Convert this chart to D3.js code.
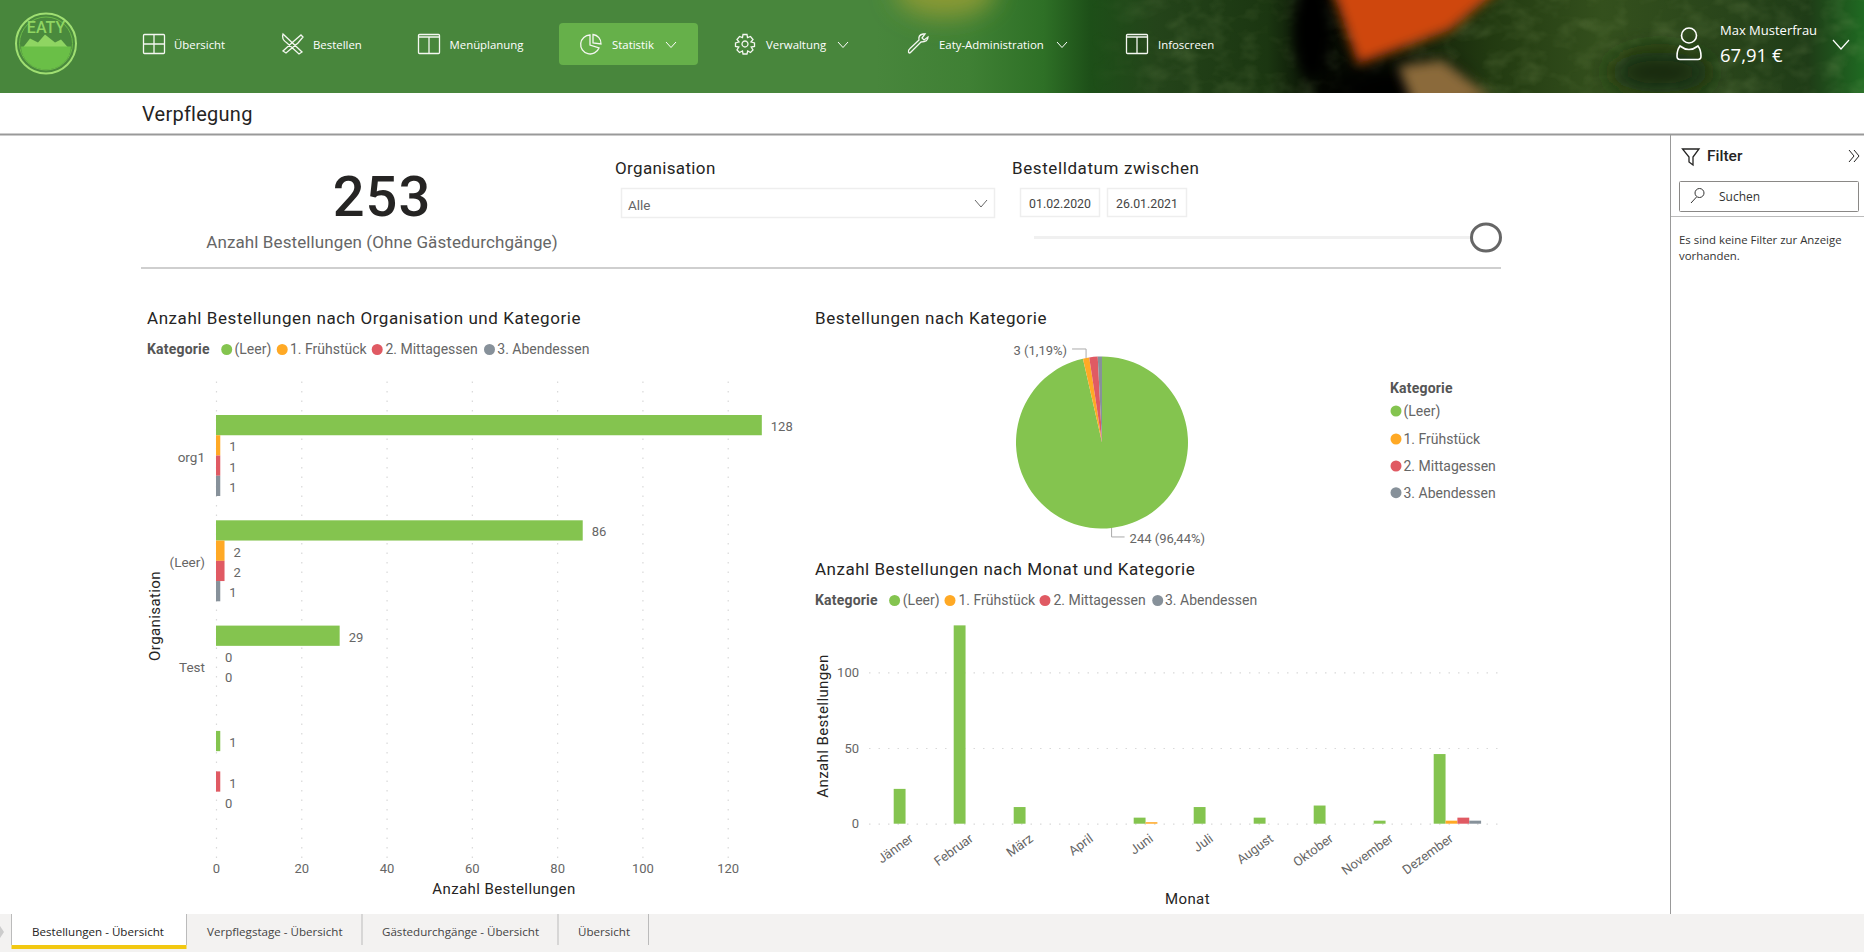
<!DOCTYPE html>
<html lang="de">
<head>
<meta charset="utf-8">
<title>Verpflegung</title>
<script src="https://cdn.jsdelivr.net/npm/d3@7"></script>
<style>
    html, body { margin: 0; padding: 0; background: #fff; overflow: hidden; }
    svg { display: block; }
    text { font-family: Roboto, sans-serif; }
    .ui { font-family: "Open Sans", sans-serif; }
    .grid line { stroke: #d9d9d9; stroke-dasharray: 1.5 8; stroke-width: 1.2; }
    .tick text { font-family: Roboto, sans-serif; font-size: 13px; fill: #666; }
</style>
</head>
<body>
<div id="page"></div>
<script>
// categories shared by all three charts
const categories = ["(Leer)", "1. Frühstück", "2. Mittagessen", "3. Abendessen"];
const catColors = ["#84c44f", "#ffa925", "#e05a63", "#87919a"];

// bar chart: orders per organisation, one list per category (null = no bar, no label)
const orgs = ["org1", "(Leer)", "Test", ""];
const orgLeer = [128, 86, 29, 1];
const orgFruehstueck = [1, 2, 0, null];
const orgMittag = [1, 2, 0, 1];
const orgAbend = [1, 1, null, 0];
const orgTicks = [0, 20, 40, 60, 80, 100, 120];

// pie chart
const pieValues = [244, 3, 4, 2];

// column chart: orders per month
const months = ["Jänner", "Februar", "März", "April", "Juni", "Juli", "August", "Oktober", "November", "Dezember"];
const monthLeer = [23, 131, 11, 0, 4, 11, 4, 12, 2, 46];
const monthFruehstueck = [0, 0, 0, 0, 1, 0, 0, 0, 0, 2];
const monthMittag = [0, 0, 0, 0, 0, 0, 0, 0, 0, 4];
const monthAbend = [0, 0, 0, 0, 0, 0, 0, 0, 0, 2];
const monthTicks = [0, 50, 100];

// navigation
const navItems = [
    {label: "Übersicht", x: 174, icon: "grid", ix: 143},
    {label: "Bestellen", x: 313, icon: "cutlery", ix: 281},
    {label: "Menüplanung", x: 449.5, icon: "split", ix: 418},
    {label: "Statistik", x: 612, icon: "pie", ix: 580, arrow: 671},
    {label: "Verwaltung", x: 766, icon: "gear", ix: 735, arrow: 843},
    {label: "Eaty-Administration", x: 939, icon: "wrench", ix: 908, arrow: 1062},
    {label: "Infoscreen", x: 1158, icon: "split", ix: 1126}
];

const tabs = [
    {label: "Bestellungen - Übersicht", x: 32},
    {label: "Verpflegstage - Übersicht", x: 207},
    {label: "Gästedurchgänge - Übersicht", x: 382},
    {label: "Übersicht", x: 578}
];
const tabSeparators = [186, 361.5, 557.5, 648];

const width = 1864, height = 952;

const svg = d3.select("#page").append("svg")
    .attr("width", width)
    .attr("height", height);

function label(parent, x, y, str, size, fill, opts) {
    opts = opts || {};
    return parent.append("text")
        .attr("x", x)
        .attr("y", y)
        .attr("dy", ".35em")
        .attr("class", opts.cls || null)
        .attr("text-anchor", opts.anchor || "start")
        .attr("font-size", size)
        .attr("font-weight", opts.weight || 400)
        .attr("letter-spacing", opts.spacing || null)
        .attr("fill", fill)
        .text(str);
}

/* ---------- header ---------- */
const defs = svg.append("defs");
defs.append("filter").attr("id", "blur").attr("x", "-30%").attr("y", "-60%").attr("width", "160%").attr("height", "220%")
    .append("feGaussianBlur").attr("stdDeviation", 12);
defs.append("filter").attr("id", "blurSmall").attr("x", "-30%").attr("y", "-60%").attr("width", "160%").attr("height", "220%")
    .append("feGaussianBlur").attr("stdDeviation", 6);
defs.append("clipPath").attr("id", "headClip").append("rect").attr("width", width).attr("height", 93);

// leafy texture over the photo part of the header
const leaf = defs.append("filter").attr("id", "leaf").attr("x", 0).attr("y", 0).attr("width", 1).attr("height", 1);
leaf.append("feTurbulence").attr("type", "fractalNoise").attr("baseFrequency", ".035 .05").attr("numOctaves", 3).attr("seed", 4);
leaf.append("feColorMatrix").attr("values", "0 0 0 0 .42  0 0 0 0 .55  0 0 0 0 .22  2.2 0 0 0 -.95");

const leafFade = defs.append("linearGradient").attr("id", "leafFade");
[[0, "#000"], [0.12, "#fff"]].forEach(function(s) {
    leafFade.append("stop").attr("offset", s[0]).attr("stop-color", s[1]);
});
defs.append("mask").attr("id", "leafMask").attr("maskUnits", "userSpaceOnUse")
    .attr("x", 1090).attr("y", 0).attr("width", 774).attr("height", 93)
    .append("rect").attr("x", 1090).attr("width", 774).attr("height", 93).attr("fill", "url(#leafFade)");

const headGrad = defs.append("linearGradient").attr("id", "headGrad");
[[0, "#48863c"], [0.47, "#48863c"], [0.52, "#3f8034"], [0.56, "#2e7026"], [0.585, "#1d4f18"], [0.62, "#24441a"],
 [0.68, "#1b3611"], [0.71, "#040701"], [0.8, "#223a11"], [0.86, "#34501d"], [0.93, "#28441a"], [0.97, "#1f3c17"], [1, "#1f6a22"]]
    .forEach(function(s) {
        headGrad.append("stop").attr("offset", s[0]).attr("stop-color", s[1]);
    });

const head = svg.append("g").attr("clip-path", "url(#headClip)");
head.append("rect").attr("width", width).attr("height", 93).attr("fill", "url(#headGrad)");
head.append("ellipse").attr("cx", 945).attr("cy", -10).attr("rx", 50).attr("ry", 28).attr("fill", "#8a9a34").attr("filter", "url(#blur)");
head.append("g").attr("mask", "url(#leafMask)")
    .append("rect").attr("x", 1090).attr("width", 774).attr("height", 93).attr("filter", "url(#leaf)").attr("opacity", .16);
head.append("ellipse").attr("cx", 1395).attr("cy", 88).attr("rx", 70).attr("ry", 26).attr("fill", "#050602").attr("filter", "url(#blur)");
head.append("ellipse").attr("cx", 1312).attr("cy", 30).attr("rx", 18).attr("ry", 50).attr("fill", "#050602").attr("filter", "url(#blurSmall)");
head.append("path").attr("d", "M1442,60 L1492,98 L1415,110 L1398,66 Z").attr("fill", "#8b6a3a").attr("filter", "url(#blurSmall)");
head.append("path").attr("d", "M1329,-20 L1510,-20 L1450,30 L1358,64 Z").attr("fill", "#cf4610").attr("filter", "url(#blurSmall)");
head.append("ellipse").attr("cx", 1660).attr("cy", 72).attr("rx", 50).attr("ry", 20).attr("fill", "#142a0c").attr("filter", "url(#blur)");

// logo
const logo = svg.append("g").attr("transform", "translate(46,43.5)");
logo.append("circle").attr("r", 30).attr("fill", "#4a8a3d").attr("stroke", "#a0df72").attr("stroke-width", 2);
logo.append("circle").attr("r", 26.5).attr("fill", "none").attr("stroke", "#6cbb49").attr("stroke-width", 1);
logo.append("path").attr("d", "M-23,4 L-16,-5 L-8,-1 L-1,-9 L9,-1 L15,-4 L22,4 Z").attr("fill", "#8fd562");
logo.append("path").attr("d", "M-25,3 L25,3 A25,23 0 0 1 -25,3 Z").attr("fill", "#6abf47");
label(logo, 0, -16, "EATY", 16, "#8fd562", {anchor: "middle", weight: 500});

// small white line icons, drawn in a 22x20 box
const iconPaths = {
    grid: "M1.5,0.5 H20.5 Q21.5,0.5 21.5,1.5 V18.5 Q21.5,19.5 20.5,19.5 H1.5 Q0.5,19.5 0.5,18.5 V1.5 Q0.5,0.5 1.5,0.5 Z M11,0.5 V19.5 M0.5,10 H21.5",
    split: "M1.5,0.5 H20.5 Q21.5,0.5 21.5,1.5 V18.5 Q21.5,19.5 20.5,19.5 H1.5 Q0.5,19.5 0.5,18.5 V1.5 Q0.5,0.5 1.5,0.5 Z M11,3 V19.5 M0.5,3 H21.5",
    cutlery: "M2,0 L21,18 L18,20 L6,9 Q0,5 2,0 Z M20,1 L22,3 L17,9 L5,19 L2,17 L13,7 Z",
    pie: "M10,1 A9.5,9.5 0 1 0 19,14 L10,11 Z M13,0.5 A9,9 0 0 1 21,10 L13,9 Z",
    gear: "M10,7 A3,3 0 1 1 9.99,7 Z M8,0.5 H12 L12.5,3.7 L15.5,2.5 L18,5.5 L16,8 L19.5,9 V12.5 L16.2,13 L18,16 L15.5,18.5 L12.7,17 L12,20 H8 L7.5,17 L4.5,18.5 L2,16 L3.8,13 L0.5,12.5 V9 L4,8 L2,5.5 L4.5,2.5 L7.5,3.7 Z",
    wrench: "M13,8 L3,18 Q1,20 0.5,18 Q0,16 2,14.5 L11,6 Q10,1 15,0 L17,0 L14,4 L16,6 L20,3 Q20,8 13,8 Z"
};

const nav = svg.append("g");
nav.append("rect").attr("x", 559).attr("y", 23).attr("width", 139).attr("height", 42).attr("rx", 4).attr("fill", "#66b04a");
navItems.forEach(function(d) {
    nav.append("path")
        .attr("d", iconPaths[d.icon])
        .attr("transform", "translate(" + d.ix + ",34)")
        .attr("fill", "none")
        .attr("stroke", "#f4f7f1")
        .attr("stroke-width", 1.3);
    label(nav, d.x, 45, d.label, 11.4, "#fff", {cls: "ui"});
    if (d.arrow) {
        nav.append("path")
            .attr("d", "M" + (d.arrow - 5) + ",42 L" + d.arrow + ",47.5 L" + (d.arrow + 5) + ",42")
            .attr("fill", "none")
            .attr("stroke", "#fff");
    }
});

// user
const user = svg.append("g");
user.append("circle").attr("cx", 1689).attr("cy", 35.5).attr("r", 7.5).attr("fill", "none").attr("stroke", "#fff").attr("stroke-width", 1.6);
user.append("path").attr("d", "M1680,46 Q1677,50 1677,56 Q1677,59.5 1680,59.5 H1698 Q1701,59.5 1701,56 Q1701,50 1698,46 Q1689,53 1680,46 Z")
    .attr("fill", "none").attr("stroke", "#fff").attr("stroke-width", 1.6);
label(user, 1720, 30.5, "Max Musterfrau", 13, "#fff", {cls: "ui"});
label(user, 1720, 56, "67,91 €", 18.5, "#fff", {cls: "ui"});
user.append("path").attr("d", "M1833,40 L1841,49 L1849,40").attr("fill", "none").attr("stroke", "#fff").attr("stroke-width", 1.2);

/* ---------- page title ---------- */
label(svg, 142, 113.5, "Verpflegung", 20, "#252423", {spacing: .25});
svg.append("line").attr("x1", 0).attr("x2", width).attr("y1", 134.5).attr("y2", 134.5).attr("stroke", "#999").attr("stroke-width", 2);

/* ---------- KPI and slicers ---------- */
label(svg, 382, 196, "253", 56, "#252423", {anchor: "middle", weight: 500, spacing: 1});
label(svg, 382, 242, "Anzahl Bestellungen (Ohne Gästedurchgänge)", 17, "#666", {anchor: "middle", spacing: .1});
svg.append("line").attr("x1", 141).attr("x2", 1501).attr("y1", 268).attr("y2", 268).attr("stroke", "#bfbfbf").attr("stroke-width", 1.5);

label(svg, 615, 168, "Organisation", 17, "#252423", {spacing: .35});
svg.append("rect").attr("x", 621.5).attr("y", 188.5).attr("width", 373).attr("height", 29).attr("fill", "#fff").attr("stroke", "#eeeeee").attr("stroke-width", 1.5);
label(svg, 628, 205.5, "Alle", 13.5, "#666", {});
svg.append("path").attr("d", "M975,200 L981,207 L987,200").attr("fill", "none").attr("stroke", "#666");

label(svg, 1012, 168, "Bestelldatum zwischen", 17, "#252423", {spacing: .6});
[[1020, "01.02.2020"], [1107, "26.01.2021"]].forEach(function(d) {
    svg.append("rect").attr("x", d[0] + .5).attr("y", 188.5).attr("width", 79).attr("height", 28).attr("fill", "#fff").attr("stroke", "#eeeeee").attr("stroke-width", 1.5);
    label(svg, d[0] + 40, 203.5, d[1], 12.3, "#444", {anchor: "middle"});
});
svg.append("line").attr("x1", 1034).attr("x2", 1480).attr("y1", 237.5).attr("y2", 237.5).attr("stroke", "#f0f0f0").attr("stroke-width", 3);
svg.append("ellipse").attr("cx", 1486).attr("cy", 237.5).attr("rx", 14.5).attr("ry", 13.5).attr("fill", "#fff").attr("stroke", "#666").attr("stroke-width", 3);

/* ---------- filter pane ---------- */
svg.append("line").attr("x1", 1670.5).attr("x2", 1670.5).attr("y1", 135).attr("y2", 914).attr("stroke", "#999");
svg.append("path").attr("d", "M1682.5,149 H1699 L1693,157 V165 L1689,162 V157 Z").attr("fill", "none").attr("stroke", "#252423").attr("stroke-width", 1.3);
label(svg, 1707, 155.5, "Filter", 15.5, "#252423", {weight: 500});
svg.append("path").attr("d", "M1849,150 L1854,156 L1849,162 M1854,150 L1859,156 L1854,162").attr("fill", "none").attr("stroke", "#252423");
svg.append("rect").attr("x", 1679.5).attr("y", 181.5).attr("width", 179).attr("height", 30).attr("rx", 1).attr("fill", "#fff").attr("stroke", "#8a8886");
svg.append("circle").attr("cx", 1699.5).attr("cy", 193).attr("r", 4.5).attr("fill", "none").attr("stroke", "#333");
svg.append("line").attr("x1", 1696.5).attr("x2", 1691).attr("y1", 197).attr("y2", 203).attr("stroke", "#333");
label(svg, 1719, 196.5, "Suchen", 12, "#333", {cls: "ui"});
svg.append("line").attr("x1", 1671).attr("x2", width).attr("y1", 216.5).attr("y2", 216.5).attr("stroke", "#bbb");
label(svg, 1679, 240, "Es sind keine Filter zur Anzeige", 11.4, "#333", {cls: "ui"});
label(svg, 1679, 256, "vorhanden.", 11.4, "#333", {cls: "ui"});

/* ---------- legends ---------- */
function hLegend(y, titleX, dotXs, textXs) {
    const g = svg.append("g");
    label(g, titleX, y, "Kategorie", 14, "#555", {weight: 700, spacing: .2});
    categories.forEach(function(c, i) {
        g.append("circle").attr("cx", dotXs[i]).attr("cy", y).attr("r", 5.5).attr("fill", catColors[i]);
        label(g, textXs[i], y, c, 14, "#666", {});
    });
}

label(svg, 147, 318.5, "Anzahl Bestellungen nach Organisation und Kategorie", 17, "#252423", {spacing: .57});
hLegend(349.5, 147, [226.7, 282.2, 377.2, 489.5], [234.5, 290, 385.4, 497.3]);

label(svg, 815, 318.5, "Bestellungen nach Kategorie", 17, "#252423", {spacing: .6});

label(svg, 815, 569.5, "Anzahl Bestellungen nach Monat und Kategorie", 17, "#252423", {spacing: .52});
hLegend(600.5, 815, [894.6, 950, 1045, 1157.7], [902.8, 958.4, 1053.4, 1165]);

/* ---------- bar chart: organisation ---------- */
const orgSeries = [orgLeer, orgFruehstueck, orgMittag, orgAbend];

const xOrg = d3.scaleLinear().domain([0, 120]).range([216, 727.7]);
const yOrg = d3.scaleBand().domain(orgs).range([402.85, 824.05]).paddingInner(.2308).paddingOuter(.1154);
const yCat = d3.scaleBand().domain(categories).range([0, yOrg.bandwidth()]);

svg.append("g")
    .attr("class", "grid")
    .attr("transform", "translate(0,858)")
    .call(d3.axisBottom(xOrg).tickValues(orgTicks).tickSize(-482).tickPadding(6))
    .call(g => g.select(".domain").remove());

yOrg.domain().forEach(function(org) {
    label(svg, 205, yOrg(org) + yOrg.bandwidth() / 2 + 1.5, org, 13.5, "#666", {anchor: "end"});
});

orgSeries.forEach(function(values, c) {
    const rows = values.map(function(v, i) { return {org: orgs[i], value: v}; })
        .filter(function(d) { return d.value !== null; });

    svg.append("g").selectAll("rect")
        .data(rows)
        .enter()
        .append("rect")
        .attr("x", xOrg(0))
        .attr("y", d => yOrg(d.org) + yCat(categories[c]))
        .attr("width", d => xOrg(d.value) - xOrg(0))
        .attr("height", yCat.bandwidth())
        .attr("fill", catColors[c]);

    svg.append("g").selectAll("text")
        .data(rows)
        .enter()
        .append("text")
        .attr("x", d => xOrg(d.value) + 9)
        .attr("y", d => yOrg(d.org) + yCat(categories[c]) + yCat.bandwidth() / 2 + 1.5)
        .attr("dy", ".35em")
        .attr("font-size", 13)
        .attr("fill", "#666")
        .text(d => d.value);
});

label(svg, 504, 889, "Anzahl Bestellungen", 15, "#252423", {anchor: "middle", spacing: .4});
label(svg, 0, 0, "Organisation", 15, "#252423", {anchor: "middle", spacing: .4})
    .attr("transform", "translate(155,616) rotate(-90)");

/* ---------- pie chart ---------- */
const pieCx = 1102, pieCy = 442.5, pieR = 86;
const pieTotal = d3.sum(pieValues);
const pieData = d3.pie().sort(null)(pieValues);
const arc = d3.arc().innerRadius(0).outerRadius(pieR);
const edge = d3.arc().innerRadius(pieR).outerRadius(pieR);

const pieG = svg.append("g").attr("transform", "translate(" + pieCx + "," + pieCy + ")");
pieG.selectAll("path")
    .data(pieData)
    .enter()
    .append("path")
    .attr("d", arc)
    .attr("fill", (d, i) => catColors[i]);

// only the first two slices carry a label
pieData.slice(0, 2).forEach(function(d) {
    const p = edge.centroid(d);
    const up = p[1] < 0;
    const elbowY = up ? p[1] - 9 : p[1] + 9;
    const endX = up ? p[0] - 14 : p[0] + 13;
    pieG.append("path")
        .attr("d", d3.line()([p, [p[0], elbowY], [endX, elbowY]]))
        .attr("fill", "none")
        .attr("stroke", "#aaa");
    label(pieG, up ? endX - 5 : endX + 5, elbowY + 1.5,
        d.value + " (" + d3.format(".2f")(d.value / pieTotal * 100).replace(".", ",") + "%)",
        13, "#666", {anchor: up ? "end" : "start"});
});

label(svg, 1390, 388.5, "Kategorie", 14, "#555", {weight: 700, spacing: .2});
const pieLegendY = [411, 439, 466, 492.7];
categories.forEach(function(c, i) {
    svg.append("circle").attr("cx", 1396).attr("cy", pieLegendY[i]).attr("r", 5.5).attr("fill", catColors[i]);
    label(svg, 1403.5, pieLegendY[i], c, 14, "#666", {});
});

/* ---------- column chart: month ---------- */
const monthSeries = [monthLeer, monthFruehstueck, monthMittag, monthAbend];

const xMonth = d3.scaleBand().domain(months).range([887.4, 1487.4]).paddingInner(.21).paddingOuter(.105);
const xCat = d3.scaleBand().domain(categories).range([0, xMonth.bandwidth()]);
const yMonth = d3.scaleLinear().domain([0, 100]).range([823.7, 672.3]);

svg.append("g")
    .attr("class", "grid")
    .attr("transform", "translate(869,0)")
    .call(d3.axisLeft(yMonth).tickValues(monthTicks).tickSize(-636).tickPadding(10))
    .call(g => g.select(".domain").remove());

svg.append("g")
    .attr("transform", "translate(0,823.7)")
    .call(d3.axisBottom(xMonth).tickSize(0))
    .call(g => g.select(".domain").remove())
    .selectAll("text")
    .attr("text-anchor", "end")
    .attr("dy", ".35em")
    .attr("transform", "translate(-6,13) rotate(-36)")
    .attr("y", 0)
    .attr("x", 0);

monthSeries.forEach(function(values, c) {
    svg.append("g").selectAll("rect")
        .data(values.map(function(v, i) { return {month: months[i], value: v}; }).filter(d => d.value > 0))
        .enter()
        .append("rect")
        .attr("x", d => xMonth(d.month) + xCat(categories[c]))
        .attr("y", d => yMonth(d.value))
        .attr("width", xCat.bandwidth())
        .attr("height", d => yMonth(0) - yMonth(d.value))
        .attr("fill", catColors[c]);
});

label(svg, 1187.5, 899, "Monat", 15, "#252423", {anchor: "middle", spacing: .4});
label(svg, 0, 0, "Anzahl Bestellungen", 15, "#252423", {anchor: "middle", spacing: .4})
    .attr("transform", "translate(823,726) rotate(-90)");

/* ---------- report tabs ---------- */
svg.append("rect").attr("y", 914).attr("width", width).attr("height", 38).attr("fill", "#f3f2f1");
svg.append("rect").attr("x", 11.5).attr("y", 914).attr("width", 175).attr("height", 31).attr("fill", "#fff");
svg.append("rect").attr("x", 11.5).attr("y", 945).attr("width", 175).attr("height", 4).attr("fill", "#f2c811");
svg.append("line").attr("x1", 11.5).attr("x2", 11.5).attr("y1", 914).attr("y2", 945).attr("stroke", "#bbb");
svg.append("path").attr("d", "M0,926 L4,932 L0,938 Z").attr("fill", "#ccc");
tabSeparators.forEach(function(x) {
    svg.append("line").attr("x1", x + .5).attr("x2", x + .5).attr("y1", 914).attr("y2", 945).attr("stroke", "#bbb");
});
tabs.forEach(function(d, i) {
    label(svg, d.x, 932, d.label, 11.6, i === 0 ? "#252423" : "#444", {cls: "ui"});
});
</script>
</body>
</html>
